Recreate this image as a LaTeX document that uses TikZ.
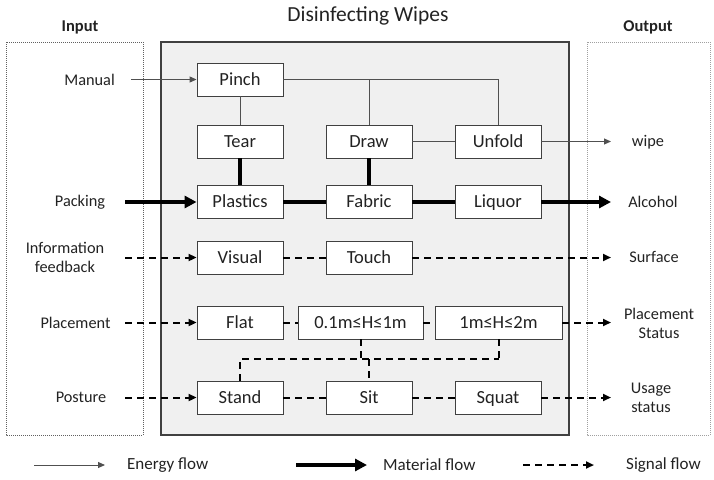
\documentclass[tikz,border=0pt]{standalone}
\usepackage{fontspec}
\setmainfont{Carlito}
\usetikzlibrary{arrows.meta}
\definecolor{boxc}{HTML}{404040}
\definecolor{txt}{HTML}{222222}
\definecolor{linec}{HTML}{505050}
\definecolor{midfill}{HTML}{F0F0F0}
\definecolor{inb}{HTML}{606060}
\definecolor{outb}{HTML}{A0A0A0}
\begin{document}
\begin{tikzpicture}[x=1pt,y=-1pt,
 fbox/.style={draw=boxc, fill=white, line width=0.9pt, minimum width=86pt, minimum height=33pt, inner sep=0pt, text height=12pt, text depth=1pt, font=\fontsize{18.5}{20}\selectfont, text=txt},
 lbl/.style={font=\fontsize{16.3}{19}\selectfont, text=txt, align=center, inner sep=0pt},
 en/.style={draw=linec, line width=1pt},
 enarrow/.style={en, -{Triangle[length=7pt,width=6pt]}},
 mat/.style={draw=black, line width=4pt},
 matarrow/.style={mat, -{Triangle[length=12pt,width=12pt]}},
 sig/.style={draw=black, line width=2pt, dash pattern=on 7pt off 5pt},
 sigarrow/.style={sig, -{Triangle[length=8pt,width=7pt]}},
 legtxt/.style={font=\fontsize{17}{19}\selectfont, text=txt, anchor=west, inner sep=0pt}
]
\useasboundingbox (0,0) rectangle (714,479);
% frames
\draw[draw=inb, line width=0.9pt, dash pattern=on 1pt off 1pt] (6,42) rectangle (143,435);
\draw[draw=boxc, fill=midfill, line width=1.2pt] (161,42) rectangle (569,435);
\draw[draw=outb, line width=0.9pt, dash pattern=on 1pt off 1pt] (587,42) rectangle (710,435);
% titles
\node[font=\fontsize{21.5}{24}\selectfont, text=txt] (title) at (368,16) {Disinfecting Wipes};
\node[font=\bfseries\fontsize{16.5}{19}\selectfont, text=txt] (tin) at (80,27) {Input};
\node[font=\bfseries\fontsize{16.5}{19}\selectfont, text=txt] (tout) at (648,27) {Output};
% function boxes
\node[fbox] (pinch) at (240,79.5) {Pinch};
\node[fbox] (tear) at (240,141.5) {Tear};
\node[fbox] (draw) at (369,141.5) {Draw};
\node[fbox] (unfold) at (498,141.5) {Unfold};
\node[fbox] (plastics) at (240,202) {Plastics};
\node[fbox] (fabric) at (369,202) {Fabric};
\node[fbox] (liquor) at (498,202) {Liquor};
\node[fbox] (visual) at (240,257.5) {Visual};
\node[fbox] (touch) at (369,257.5) {Touch};
\node[fbox] (flat) at (240,322.5) {Flat};
\node[fbox, minimum width=125pt] (h1) at (360.5,322.5) {0.1m≤H≤1m};
\node[fbox, minimum width=127pt] (h2) at (498.5,322.5) {1m≤H≤2m};
\node[fbox] (stand) at (240,397.5) {Stand};
\node[fbox] (sit) at (369,397.5) {Sit};
\node[fbox] (squat) at (498,397.5) {Squat};
% input labels
\node[lbl, anchor=east] (manual) at (115,79.5) {Manual};
\node[lbl] (packing) at (80,202) {Packing};
\node[lbl] (info) at (65,257.5) {Information\\feedback};
\node[lbl] (placement) at (75.5,322.5) {Placement};
\node[lbl] (posture) at (81,397.5) {Posture};
% output labels
\node[lbl] (wipe) at (648,142) {wipe};
\node[lbl] (alcohol) at (653,202) {Alcohol};
\node[lbl] (surface) at (654,257) {Surface};
\node[lbl] (pstatus) at (659,323) {Placement\\Status};
\node[lbl] (ustatus) at (651,397.5) {Usage\\status};
% start / end coordinates
\coordinate (sman) at (131,79.5);
\coordinate (spack) at (125,202);
\coordinate (sinfo) at (125,257.5);
\coordinate (splace) at (125,322.5);
\coordinate (spost) at (125,397.5);
\coordinate (ewipe) at (611,141.5);
\coordinate (ealc) at (611,202);
\coordinate (esurf) at (611,257.5);
\coordinate (eplace) at (611,322.5);
\coordinate (euse) at (611,397.5);
\coordinate (jn) at (498,79.5);
\coordinate (jd) at (369,79.5);
\coordinate (jl) at (240,359);
\coordinate (jm) at (360.5,359);
\coordinate (js) at (369,359);
\coordinate (jr) at (498.5,359);
% energy flow
\draw[enarrow] (sman) -- (pinch.west);
\draw[en] (pinch.south) -- (tear.north);
\draw[en] (pinch.east) -- (jn) -- (unfold.north);
\draw[en] (jd) -- (draw.north);
\draw[en] (draw.east) -- (unfold.west);
\draw[enarrow] (unfold.east) -- (ewipe);
% material flow
\draw[matarrow] (spack) -- (plastics.west);
\draw[mat] (tear.south) -- (plastics.north);
\draw[mat] (draw.south) -- (fabric.north);
\draw[mat] (plastics.east) -- (fabric.west);
\draw[mat] (fabric.east) -- (liquor.west);
\draw[matarrow] (liquor.east) -- (ealc);
% signal flow
\draw[sigarrow] (sinfo) -- (visual.west);
\draw[sig] (visual.east) -- (touch.west);
\draw[sigarrow] (touch.east) -- (esurf);
\draw[sigarrow] (splace) -- (flat.west);
\draw[sig] (flat.east) -- (h1.west);
\draw[sig] (h1.east) -- (h2.west);
\draw[sigarrow] (h2.east) -- (eplace);
\draw[sig] (h1.south) -- (jm);
\draw[sig] (h2.south) -- (jr);
\draw[sig] (stand.north) -- (jl) -- (jr);
\draw[sig] (js) -- (sit.north);
\draw[sigarrow] (spost) -- (stand.west);
\draw[sig] (stand.east) -- (sit.west);
\draw[sig] (sit.east) -- (squat.west);
\draw[sigarrow] (squat.east) -- (euse);
% legend
\coordinate (le1) at (34,465); \coordinate (le2) at (105,465);
\coordinate (lm1) at (296,465); \coordinate (lm2) at (367,465);
\coordinate (ls1) at (523,465); \coordinate (ls2) at (594,465);
\draw[enarrow] (le1) -- (le2);
\draw[matarrow] (lm1) -- (lm2);
\draw[sigarrow] (ls1) -- (ls2);
\node[legtxt] (legE) at (127,465) {Energy flow};
\node[legtxt] (legM) at (383,465) {Material flow};
\node[legtxt] (legS) at (626,465) {Signal flow};
\end{tikzpicture}
\end{document}
